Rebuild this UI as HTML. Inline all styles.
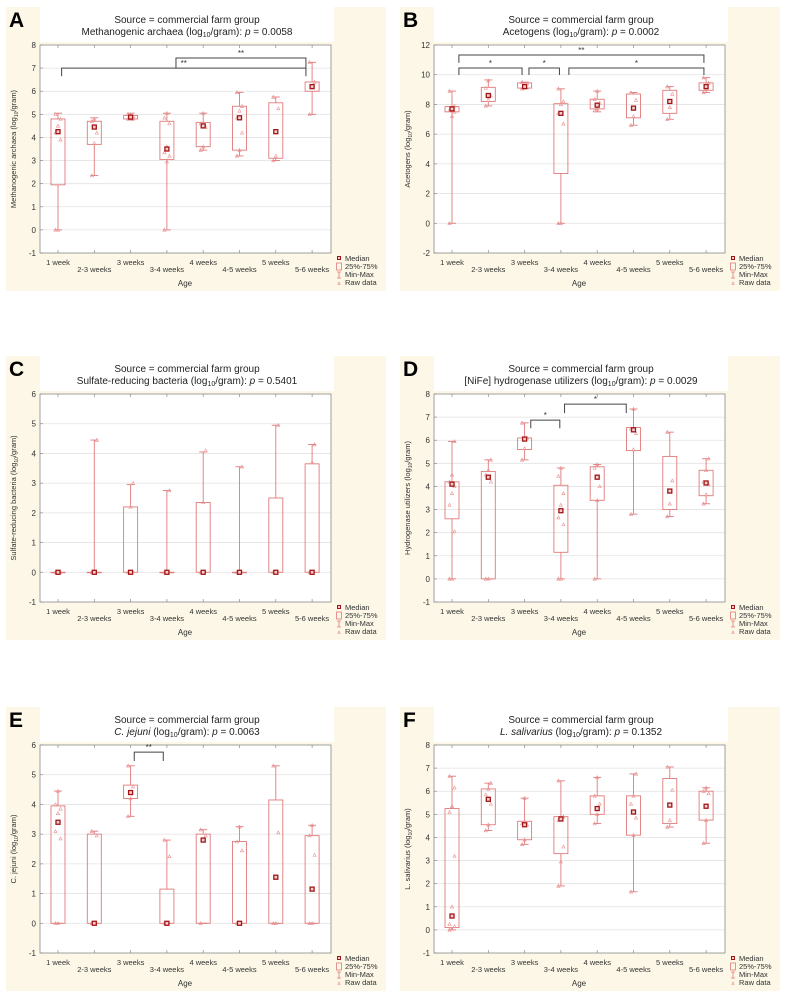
<!DOCTYPE html>
<html><head><meta charset="utf-8"><style>
html,body{margin:0;padding:0;background:#fff}
svg{display:block;font-family:"Liberation Sans",sans-serif}
</style></head><body>
<svg id="fig" width="788" height="998" viewBox="0 0 788 998" xmlns="http://www.w3.org/2000/svg"></svg>
<script>
const categories = ["1 week","2-3 weeks","3 weeks","3-4 weeks","4 weeks","4-5 weeks","5 weeks","5-6 weeks"];

// Panel A – Methanogenic archaea
const aMin = [0, 2.35, 4.75, 0, 3.45, 3.2, 3.0, 5.0];
const aQ1  = [1.95, 3.7, 4.8, 3.05, 3.6, 3.45, 3.1, 6.0];
const aMed = [4.25, 4.45, 4.88, 3.5, 4.5, 4.85, 4.25, 6.2];
const aQ3  = [4.8, 4.7, 4.95, 4.7, 4.65, 5.35, 5.5, 6.4];
const aMax = [5.05, 4.85, 5.05, 5.05, 5.05, 5.95, 5.75, 7.25];
const aRaw = [[0,0,3.9,4.2,4.5,4.8,5.0],[2.35,3.75,4.2,4.7,4.8],[4.8,4.85,4.9,5.0],[0,2.95,3.2,3.35,3.6,4.6,4.85,5.05],[3.45,3.6,4.45,4.6,5.05],[3.2,3.45,4.2,4.85,5.15,5.35,5.95],[3.0,3.2,5.25,5.75],[5.0,6.2,6.4,7.25]];
const aTicks = [-1,0,1,2,3,4,5,6,7,8];

// Panel B – Acetogens
const bMin = [0, 7.9, 9.05, 0, 7.5, 6.6, 7.0, 8.8];
const bQ1  = [7.5, 8.2, 9.1, 3.35, 7.7, 7.1, 7.4, 8.95];
const bMed = [7.7, 8.6, 9.2, 7.4, 7.95, 7.75, 8.2, 9.2];
const bQ3  = [7.85, 9.15, 9.45, 8.05, 8.35, 8.7, 8.95, 9.45];
const bMax = [8.9, 9.65, 9.5, 9.05, 8.9, 8.8, 9.2, 9.8];
const bRaw = [[0,7.2,7.5,7.6,7.7,7.9,8.9],[7.9,8.3,8.6,9.1,9.6],[9.05,9.2,9.4,9.5],[0,0,6.7,7.4,8.0,8.2,9.05],[7.6,7.7,8.1,8.35,8.9],[6.6,7.2,8.3,8.8],[7.0,7.8,8.7,9.2],[8.8,9.1,9.45,9.8]];
const bTicks = [-2,0,2,4,6,8,10,12];

// Panel C – Sulfate-reducing bacteria
const cMin = [0,0,0,0,0,0,0,0];
const cQ1  = [0,0,0,0,0,0,0,0];
const cMed = [0,0,0,0,0,0,0,0];
const cQ3  = [0,0,2.2,0,2.35,0,2.5,3.65];
const cMax = [0,4.45,2.95,2.75,4.05,3.55,4.95,4.3];
const cRaw = [[0,0,0],[0,0,4.45],[0,2.2,3.0],[0,0,2.75],[0,2.35,4.1],[0,0,3.55],[0,0,4.95],[0,3.7,4.3]];
const cTicks = [-1,0,1,2,3,4,5,6];

// Panel D – [NiFe] hydrogenase utilizers
const dMin = [0, 0, 5.15, 0, 0, 2.8, 2.7, 3.25];
const dQ1  = [2.6, 0, 5.6, 1.15, 3.4, 5.55, 3.0, 3.6];
const dMed = [4.1, 4.4, 6.05, 2.95, 4.4, 6.45, 3.8, 4.15];
const dQ3  = [4.2, 4.65, 6.1, 4.05, 4.85, 6.55, 5.3, 4.7];
const dMax = [5.95, 5.15, 6.75, 4.8, 4.95, 7.35, 6.35, 5.2];
const dRaw = [[0,0,2.05,3.2,3.7,4.0,4.2,4.5,5.95],[0,0,4.2,4.5,4.7,5.15],[5.15,5.65,6.1,6.75],[0,0,2.35,2.65,3.2,3.7,4.45,4.8],[0,3.4,4.0,4.8,4.95],[2.8,5.6,6.3,6.5,7.35],[2.7,3.25,4.25,6.35],[3.25,3.65,4.1,4.2,4.7,5.2]];
const dTicks = [-1,0,1,2,3,4,5,6,7,8];

// Panel E – C. jejuni
const eMin = [0,0,3.6,0,0,0,0,0];
const eQ1  = [0,0,4.2,0,0,0,0,0];
const eMed = [3.4,0,4.4,0,2.8,0,1.55,1.15];
const eQ3  = [3.95,3.0,4.65,1.15,3.0,2.75,4.15,2.95];
const eMax = [4.45,3.1,5.3,2.8,3.15,3.25,5.3,3.3];
const eRaw = [[0,0,2.85,3.1,3.7,3.85,4.0,4.45],[0,0,2.95,3.1],[3.6,4.2,4.6,5.3],[0,0,2.25,2.8],[0,2.8,2.95,3.15],[0,0,2.45,2.75,3.25],[0,0,3.05,5.3],[0,0,2.3,2.95,3.3]];
const eTicks = [-1,0,1,2,3,4,5,6];

// Panel F – L. salivarius
const fMin = [0, 4.3, 3.7, 1.9, 4.6, 1.65, 4.45, 3.75];
const fQ1  = [0.1, 4.55, 3.9, 3.3, 5.0, 4.1, 4.6, 4.75];
const fMed = [0.6, 5.65, 4.55, 4.8, 5.25, 5.1, 5.4, 5.35];
const fQ3  = [5.25, 6.1, 4.7, 4.9, 5.8, 5.8, 6.55, 6.0];
const fMax = [6.65, 6.35, 5.7, 6.45, 6.6, 6.75, 7.05, 6.15];
const fRaw = [[0,0.05,0.15,0.25,1.0,3.2,5.1,5.35,6.15,6.65],[4.3,4.55,5.45,5.85,6.1,6.35],[3.7,3.9,4.55,4.6,5.7],[1.9,2.95,3.6,4.75,4.85,4.9,6.45],[4.6,5.0,5.45,5.8,6.6],[1.65,4.1,4.85,5.45,5.8,6.75],[4.45,4.75,6.05,7.05],[3.75,4.75,5.9,6.0,6.15]];
const fTicks = [-1,0,1,2,3,4,5,6,7,8];

// Significance brackets: [fromCat, toCat, topValue, legValue, label]
const aBrackets = [[0.1,6.83,7.0,6.65,"**"],[3.25,6.83,7.44,7.0,"**"]];
const bBrackets = [[0.19,6.94,11.33,10.8,"**"],[0.19,1.93,10.45,9.98,"*"],[2.12,2.96,10.45,9.98,"*"],[3.22,6.94,10.45,9.98,"*"]];
const cBrackets = [];
const dBrackets = [[2.17,2.97,6.87,6.52,"*"],[3.1,4.8,7.56,7.17,"*"]];
const eBrackets = [[2.1,2.9,5.76,5.46,"**"]];
const fBrackets = [];

const NS = "http://www.w3.org/2000/svg";
const svg = document.getElementById("fig");
function mk(tag, attrs, parent){
  const e = document.createElementNS(NS, tag);
  for (const k in attrs) e.setAttribute(k, attrs[k]);
  (parent||svg).appendChild(e);
  return e;
}
const BOX = "#e07a7a", MED = "#a31515", RAW = "#e89090";

function panel(cfg){
  const g = mk("g", {transform:`translate(${cfg.ox},${cfg.oy})`});
  
  
  const bg = mk("rect", {x:6,y:7,width:380,height:284,fill:"#fcf7e6"}, g);
  
  
  mk("rect", {x:40,y:7,width:294,height:35,fill:"#fff"}, g);
  const L = mk("text", {x:9,y:27,"font-size":21,"font-weight":"bold",fill:"#000"}, g);
  L.textContent = cfg.letter;
  
  
  const t1 = mk("text", {x:187,y:23,"font-size":10,"text-anchor":"middle",fill:"#222"}, g);
  t1.textContent = "Source = commercial farm group";
  
  
  const t2 = mk("text", {x:187,y:35,"font-size":10,"text-anchor":"middle",fill:"#222"}, g);
  t2.innerHTML = cfg.title;
  
  

  const px0 = 40, px1 = 331, py0 = 45, py1 = 253;
  const lo = cfg.ticks[0], hi = cfg.ticks[cfg.ticks.length-1];
  const Y = v => py1 - (v - lo) / (hi - lo) * (py1 - py0);
  const X = i => 58 + i * 36.3;
  mk("rect", {x:px0,y:py0,width:px1-px0,height:py1-py0,fill:"#fff"}, g);
  cfg.ticks.forEach(t => {
    if (t !== lo && t !== hi) mk("line", {x1:px0,x2:px1,y1:Y(t),y2:Y(t),stroke:"#e2e2e2","stroke-width":0.8}, g);
    mk("line", {x1:px0,x2:px0+3,y1:Y(t),y2:Y(t),stroke:"#8a8a8a","stroke-width":0.7}, g);
    const tl = mk("text", {x:36,y:Y(t)+3,"font-size":8,"text-anchor":"end",fill:"#333"}, g);
    tl.textContent = t;
    
    
  });
  categories.forEach((c, i) => {
    mk("line", {x1:X(i),x2:X(i),y1:py0,y2:py0+3,stroke:"#8a8a8a","stroke-width":0.7}, g);
    mk("line", {x1:X(i),x2:X(i),y1:py1,y2:py1-3,stroke:"#8a8a8a","stroke-width":0.7}, g);
  });
  const fr = mk("rect", {x:px0,y:py0,width:px1-px0,height:py1-py0,fill:"none",stroke:"#8a8a8a","stroke-width":0.8}, g);
  
  

  const yt = mk("text", {transform:`translate(16,149) rotate(-90)`,"font-size":7.5,"text-anchor":"middle",fill:"#333"}, g);
  yt.innerHTML = cfg.ytitle + ' (log<tspan font-size="5" dy="2">10</tspan><tspan dy="-2">/gram)</tspan>';
  
  

  categories.forEach((c, i) => {
    const tx = mk("text", {x:X(i),y:(i%2===0)?265:272,"font-size":7.5,"text-anchor":"middle",fill:"#333"}, g);
    tx.textContent = c;
    
    
  });
  const ax = mk("text", {x:185,y:286,"font-size":8,"text-anchor":"middle",fill:"#333"}, g);
  ax.textContent = "Age";
  
  

  categories.forEach((c, i) => {
    const bx = mk("g", {}, g);
    
    
    const x = X(i);
    mk("line", {x1:x,x2:x,y1:Y(cfg.max[i]),y2:Y(cfg.q3[i]),stroke:BOX,"stroke-width":0.9}, bx);
    mk("line", {x1:x,x2:x,y1:Y(cfg.q1[i]),y2:Y(cfg.min[i]),stroke:BOX,"stroke-width":0.9}, bx);
    mk("line", {x1:x-4,x2:x+4,y1:Y(cfg.max[i]),y2:Y(cfg.max[i]),stroke:BOX,"stroke-width":0.9}, bx);
    mk("line", {x1:x-4,x2:x+4,y1:Y(cfg.min[i]),y2:Y(cfg.min[i]),stroke:BOX,"stroke-width":0.9}, bx);
    mk("rect", {x:x-7,y:Y(cfg.q3[i]),width:14,height:Math.max(0.5,Y(cfg.q1[i])-Y(cfg.q3[i])),fill:"none",stroke:BOX,"stroke-width":0.9}, bx);
    cfg.raw[i].forEach((v, j) => {
      const dx = ((j % 3) - 1) * 2.5;
      const yy = Y(v);
      mk("path", {d:`M${x+dx-1.6},${yy+1.3}L${x+dx},${yy-1.6}L${x+dx+1.6},${yy+1.3}Z`,fill:"none",stroke:RAW,"stroke-width":0.6}, bx);
    });
    mk("rect", {x:x-2,y:Y(cfg.med[i])-2,width:4,height:4,fill:"#f2d0d0",stroke:MED,"stroke-width":1.3}, bx);
  });

  cfg.brackets.forEach(b => {
    const x1 = X(b[0]), x2 = X(b[1]), yt2 = Y(b[2]), yl = Y(b[3]);
    const br = mk("path", {d:`M${x1},${yl}V${yt2}H${x2}V${yl}`,fill:"none",stroke:"#444","stroke-width":1}, g);
    
    
    const s = mk("text", {x:(x1+x2)/2,y:yt2-2,"font-size":8,"text-anchor":"middle",fill:"#333"}, g);
    s.textContent = b[4];
    
    
  });

  const lg = mk("g", {}, g);
  
  
  mk("rect", {x:337.5,y:256.5,width:3,height:3,fill:"#f2d0d0",stroke:MED,"stroke-width":1}, lg);
  mk("rect", {x:336.5,y:263,width:5,height:7,fill:"none",stroke:BOX,"stroke-width":0.8}, lg);
  mk("path", {d:"M337,272H341M339,272V278M337,278H341",fill:"none",stroke:BOX,"stroke-width":0.8}, lg);
  mk("path", {d:"M337.8,284.5L339,282L340.2,284.5Z",fill:"none",stroke:RAW,"stroke-width":0.6}, lg);
  ["Median","25%-75%","Min-Max","Raw data"].forEach((s, k) => {
    const lt = mk("text", {x:345,y:261+k*8,"font-size":7.5,fill:"#333"}, lg);
    lt.textContent = s;
    
    
  });
}

const sub = '(log<tspan font-size="7" dy="2">10</tspan><tspan dy="-2">/gram): </tspan><tspan font-style="italic">p</tspan> = ';
panel({letter:"A",ox:0,oy:0,title:"Methanogenic archaea "+sub+"0.0058",ytitle:"Methanogenic archaea",ticks:aTicks,min:aMin,q1:aQ1,med:aMed,q3:aQ3,max:aMax,raw:aRaw,brackets:aBrackets});
panel({letter:"B",ox:394,oy:0,title:"Acetogens "+sub+"0.0002",ytitle:"Acetogens",ticks:bTicks,min:bMin,q1:bQ1,med:bMed,q3:bQ3,max:bMax,raw:bRaw,brackets:bBrackets});
panel({letter:"C",ox:0,oy:349,title:"Sulfate-reducing bacteria "+sub+"0.5401",ytitle:"Sulfate-reducing bacteria",ticks:cTicks,min:cMin,q1:cQ1,med:cMed,q3:cQ3,max:cMax,raw:cRaw,brackets:cBrackets});
panel({letter:"D",ox:394,oy:349,title:"[NiFe] hydrogenase utilizers "+sub+"0.0029",ytitle:"Hydrogenase utilizers",ticks:dTicks,min:dMin,q1:dQ1,med:dMed,q3:dQ3,max:dMax,raw:dRaw,brackets:dBrackets});
panel({letter:"E",ox:0,oy:700,title:'<tspan font-style="italic">C. jejuni</tspan> '+sub+"0.0063",ytitle:"C. jejuni",ticks:eTicks,min:eMin,q1:eQ1,med:eMed,q3:eQ3,max:eMax,raw:eRaw,brackets:eBrackets});
panel({letter:"F",ox:394,oy:700,title:'<tspan font-style="italic">L. salivarius</tspan> '+sub+"0.1352",ytitle:"L. salivarius",ticks:fTicks,min:fMin,q1:fQ1,med:fMed,q3:fQ3,max:fMax,raw:fRaw,brackets:fBrackets});
</script>
</body></html>
